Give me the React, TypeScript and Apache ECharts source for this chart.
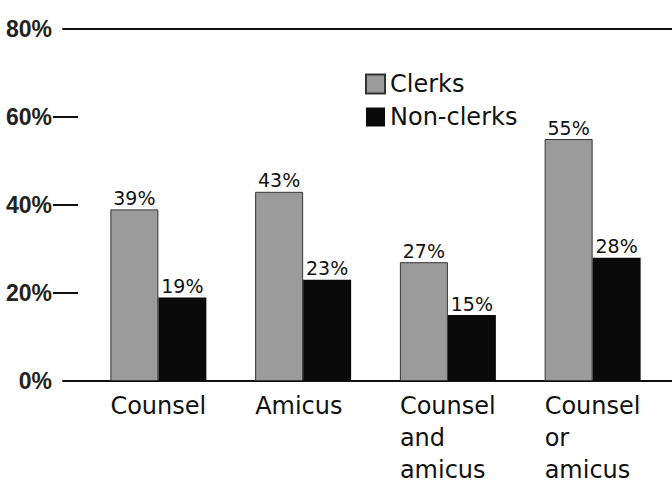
import React, { useEffect, useRef } from "react";
import * as echarts from "echarts";

const categories = ["Counsel", "Amicus", "Counsel\nand\namicus", "Counsel\nor\namicus"];
const clerks = [39, 43, 27, 55];
const nonClerks = [19, 23, 15, 28];
const yTicks = [0, 20, 40, 60, 80];

export default function App() {
  const ref = useRef<HTMLDivElement>(null);
  useEffect(() => {
    if (!ref.current) return;
    const chart = echarts.init(ref.current, null, { renderer: "svg" });
    const top = 29;
    const bottom = 105;
    chart.setOption({
      animation: false,
      backgroundColor: "#ffffff",
      legend: {
        orient: "vertical",
        left: 360,
        top: 67,
        itemWidth: 19,
        itemHeight: 19,
        itemGap: 9,
        icon: "rect",
        textStyle: { fontFamily: "DejaVu Sans", fontSize: 24, color: "#111" },
        data: ["Clerks", "Non-clerks"],
      },
      grid: [
        { left: 86, right: 7, top, bottom },
        { left: 53, right: 0, top, bottom },
        { left: 63, right: 0, top, bottom },
        { left: 38, right: 55, top, bottom },
      ],
      xAxis: [
        {
          gridIndex: 0,
          type: "category",
          data: categories,
          axisLine: { show: false },
          axisTick: { show: false },
          axisLabel: { show: false },
        },
        {
          gridIndex: 1,
          type: "value",
          min: 0,
          max: 1,
          show: false,
        },
        {
          gridIndex: 2,
          type: "value",
          min: 0,
          max: 1,
          position: "bottom",
          axisLine: { show: true, lineStyle: { color: "#111", width: 2 } },
          axisTick: { show: false },
          axisLabel: { show: false },
          splitLine: { show: false },
        },
        {
          gridIndex: 2,
          type: "value",
          min: 0,
          max: 1,
          position: "top",
          axisLine: { show: true, lineStyle: { color: "#111", width: 2 } },
          axisTick: { show: false },
          axisLabel: { show: false },
          splitLine: { show: false },
        },
        {
          gridIndex: 3,
          type: "category",
          data: categories,
          axisLine: { show: false },
          axisTick: { show: false },
          axisLabel: {
            show: true,
            align: "left",
            margin: 17,
            fontFamily: "DejaVu Sans",
            fontSize: 24,
            lineHeight: 32,
            color: "#111",
            interval: 0,
          },
        },
      ],
      yAxis: [
        { gridIndex: 0, type: "value", min: 0, max: 80, show: false },
        {
          gridIndex: 1,
          type: "value",
          min: 0,
          max: 80,
          interval: 20,
          axisLine: { show: false },
          axisTick: {
            show: true,
            inside: true,
            length: 25,
            customValues: [20, 40, 60],
            lineStyle: { color: "#111", width: 2 },
          },
          axisLabel: {
            show: true,
            margin: 1,
            customValues: yTicks,
            formatter: (v: number) => v + "%",
            fontFamily: "Liberation Sans",
            fontSize: 23,
            fontWeight: "bold",
            color: "#222",
          },
          splitLine: { show: false },
        },
        { gridIndex: 2, type: "value", min: 0, max: 80, show: false },
        { gridIndex: 3, type: "value", min: 0, max: 80, show: false },
      ],
      series: [
        {
          name: "Clerks",
          type: "bar",
          xAxisIndex: 0,
          yAxisIndex: 0,
          data: clerks,
          barWidth: 48,
          barGap: "0%",
          itemStyle: { color: "#9b9b9b", borderColor: "#333", borderWidth: 1 },
          label: {
            show: true,
            position: "top",
            distance: 2,
            formatter: "{c}%",
            fontFamily: "DejaVu Sans",
            fontSize: 19,
            color: "#111",
          },
        },
        {
          name: "Non-clerks",
          type: "bar",
          xAxisIndex: 0,
          yAxisIndex: 0,
          data: nonClerks,
          barWidth: 48,
          barGap: "0%",
          itemStyle: { color: "#0a0a0a" },
          label: {
            show: true,
            position: "top",
            distance: 2,
            formatter: "{c}%",
            fontFamily: "DejaVu Sans",
            fontSize: 19,
            color: "#111",
          },
        },
      ],
    });
    return () => chart.dispose();
  }, []);
  return (
    <div
      ref={ref}
      style={{ position: "fixed", left: 0, top: 0, width: 672, height: 486 }}
    />
  );
}
